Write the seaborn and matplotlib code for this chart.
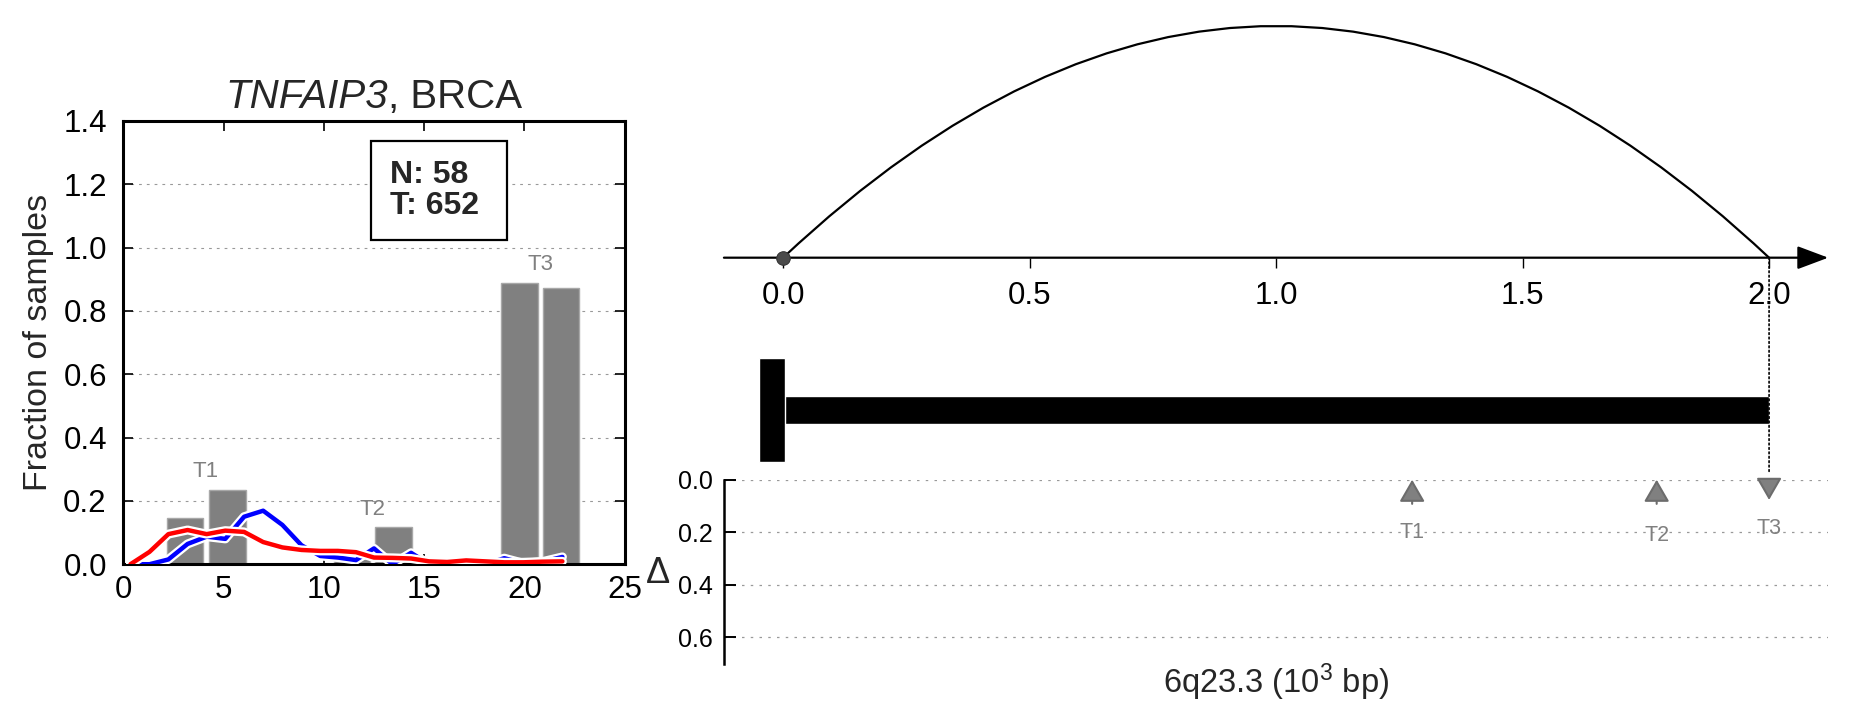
import matplotlib
matplotlib.use('Agg')
import matplotlib.pyplot as plt
import matplotlib.patheffects as pe
from matplotlib.path import Path
from matplotlib.patches import PathPatch, ConnectionPatch
from matplotlib.offsetbox import TextArea, HPacker, AnchoredOffsetbox
import seaborn as sns

#%% data
gene = 'TNFAIP3'
cancer = 'BRCA'
n_normal = 58
n_tumor = 652

# grey bars (transcript usage), grouped by transcript
bar_pos = [3.07, 5.17, 11.40, 13.49, 19.74, 21.83]
bar_frac = [0.145, 0.234, 0.015, 0.116, 0.888, 0.873]
bar_tx = ['T1', 'T1', 'T2', 'T2', 'T3', 'T3']

# blue / red curves
curve_x = [0.35, 1.30, 2.24, 3.20, 4.15, 5.08, 6.02, 6.97, 7.93, 8.88, 9.82, 10.70,
           11.60, 12.50, 13.42, 14.35, 15.25, 16.15, 17.10, 18.05, 19.00, 19.95, 20.90, 21.90]
normal_frac = [0.0, 0.0, 0.015, 0.064, 0.087, 0.080, 0.150, 0.169, 0.124, 0.060, 0.026, 0.021,
               0.013, 0.050, 0.0, 0.036, 0.0, 0.0, 0.0, 0.0, 0.019, 0.003, 0.008, 0.023]
tumor_frac = [0.0, 0.039, 0.095, 0.108, 0.095, 0.106, 0.102, 0.070, 0.053, 0.045, 0.042, 0.042,
              0.038, 0.021, 0.020, 0.018, 0.009, 0.007, 0.012, 0.009, 0.006, 0.006, 0.008, 0.009]

# right side: locus in 10^3 bp
arc_start, arc_end = 0.0, 2.0
gene_start, gene_end = 0.0, 2.0
tx_names = ['T1', 'T2', 'T3']
tx_pos = [1.276, 1.772, 2.0]
tx_strand = ['+', '+', '-']
region = '6q23.3'

#%% style
sns.set_style('white')
plt.rcParams['font.family'] = ['Liberation Sans', 'DejaVu Sans']
plt.rcParams['mathtext.fontset'] = 'custom'
plt.rcParams['mathtext.rm'] = 'Liberation Sans'
plt.rcParams['mathtext.it'] = 'Liberation Sans:italic'
plt.rcParams['mathtext.bf'] = 'Liberation Sans:bold'

fig = plt.figure(figsize=(18.51, 7.18), dpi=100)

#%% left panel
ax = fig.add_axes([0.0667, 0.2142, 0.2707, 0.6173])
ax.bar(bar_pos, bar_frac, width=1.84, color='#808080', edgecolor='#a8a8a8', lw=1, zorder=2)
for t in ['T1', 'T2', 'T3']:
    xs = [p for p, b in zip(bar_pos, bar_tx) if b == t]
    hs = [h for h, b in zip(bar_frac, bar_tx) if b == t]
    ax.text(sum(xs) / len(xs), max(hs) + 0.058, t, color='#808080', fontsize=16,
            ha='center', va='center')

halo = [pe.Stroke(linewidth=6.5, foreground='white'), pe.Normal()]
sns.lineplot(x=curve_x, y=normal_frac, ax=ax, color='#0000ff', lw=3.2,
             estimator=None, sort=False, path_effects=halo, zorder=3)
sns.lineplot(x=curve_x, y=tumor_frac, ax=ax, color='#ff0000', lw=3.2,
             estimator=None, sort=False, path_effects=halo, zorder=4)

ax.set_xlim(0, 25)
ax.set_ylim(0, 1.4)
ax.set_xticks([0, 5, 10, 15, 20, 25])
ax.set_yticks([0.0, 0.2, 0.4, 0.6, 0.8, 1.0, 1.2, 1.4])
ax.set_yticklabels(['%.1f' % v for v in ax.get_yticks()])
ax.tick_params(direction='in', length=7.5, width=1.2, labelsize=22.5, colors='black',
               top=True, right=True, bottom=True, left=True)
ax.tick_params(axis='x', pad=8)
ax.tick_params(axis='y', pad=12)
ax.yaxis.grid(True, ls=(0, (2.5, 4.5)), color='#999999', lw=0.8)
ax.xaxis.grid(False)
for s in ax.spines.values():
    s.set_color('black')
    s.set_linewidth(2.2)

# title: gene name in italics, cancer code upright
title = HPacker(children=[TextArea(gene, textprops=dict(fontsize=29, style='italic')),
                          TextArea(', ' + cancer, textprops=dict(fontsize=29))],
                align='baseline', pad=0, sep=0)
ax.add_artist(AnchoredOffsetbox(loc='lower center', child=title, pad=0, borderpad=0,
                                frameon=False, bbox_to_anchor=(0.5, 1.012),
                                bbox_transform=ax.transAxes))

ax.set_ylabel('Fraction of samples', fontsize=24.5, va='center')
ax.yaxis.set_label_coords(-0.17, 0.5)
ax.text(13.3, 1.18, 'N: %d\nT: %d ' % (n_normal, n_tumor), fontsize=23, fontweight='bold',
        ha='left', va='center', linespacing=1.05, zorder=6,
        bbox=dict(boxstyle='square,pad=0.6', fc='white', ec='black', lw=1.6))

#%% right top: number line with arc
xl = (-0.12, 2.12)
ax_top = fig.add_axes([0.3911, 0.6411, 0.5966, 0.3311])
ax_top.set_xlim(*xl)
ax_top.set_ylim(0, 1.026)
for s in ax_top.spines.values():
    s.set_visible(False)
arc = Path([(arc_start, 0), ((arc_start + arc_end) / 2, 2.0), (arc_end, 0)],
           [Path.MOVETO, Path.CURVE3, Path.CURVE3])
ax_top.add_patch(PathPatch(arc, fc='none', ec='black', lw=1.6))
ax_top.annotate('', xy=(xl[1], 0), xytext=(xl[0], 0),
                arrowprops=dict(arrowstyle='-|>,head_length=0.96,head_width=0.36',
                                mutation_scale=20, color='black', lw=1.6,
                                shrinkA=0, shrinkB=0),
                annotation_clip=False)
sns.scatterplot(x=[arc_start], y=[0.0], ax=ax_top, s=95, color='#4a4a4a',
                edgecolor='#333333', zorder=5, clip_on=False, legend=False)
ax_top.set_xticks([0.0, 0.5, 1.0, 1.5, 2.0])
ax_top.set_xticklabels(['0.0', '0.5', '1.0', '1.5', '2.0'])
ax_top.set_yticks([])
ax_top.tick_params(axis='x', direction='out', length=7.5, width=1, pad=9,
                   labelsize=22.5, bottom=True, colors='black')

#%% right middle: gene model
ax_gene = fig.add_axes([0.3911, 0.3454, 0.5966, 0.1671])
ax_gene.set_xlim(*xl)
ax_gene.set_ylim(-1, 1)
ax_gene.barh(0, gene_end - gene_start, left=gene_start, height=0.47, color='black')
ax_gene.barh(0, 0.052, left=gene_start - 0.048, height=1.74, color='black')
ax_gene.axis('off')

#%% right bottom: delta track
ax_d = fig.add_axes([0.3911, 0.0758, 0.5966, 0.2561])
ax_d.set_xlim(*xl)
ax_d.set_ylim(0.7, 0.0)
ax_d.set_xticks([])
ax_d.set_yticks([0.0, 0.2, 0.4, 0.6])
ax_d.set_yticklabels(['0.0', '0.2', '0.4', '0.6'])
ax_d.tick_params(axis='y', direction='in', length=8.5, width=1.4, labelsize=18,
                 pad=8, left=True, colors='black')
ax_d.yaxis.grid(True, ls=(0, (2, 5)), color='#999999', lw=0.9)
for k in ['top', 'right', 'bottom']:
    ax_d.spines[k].set_visible(False)
ax_d.spines['left'].set_color('black')
ax_d.spines['left'].set_linewidth(1.8)

label_y = [0.2, 0.213, 0.185]
for name, x, strand, ly in zip(tx_names, tx_pos, tx_strand, label_y):
    if strand == '+':
        tip, tail = 0.0, 0.092
    else:
        tip, tail = 0.077, 0.0
    ax_d.annotate('', xy=(x, tip), xytext=(x, tail),
                  arrowprops=dict(arrowstyle='-|>,head_length=1.37,head_width=0.79',
                                  mutation_scale=10, fc='#808080', ec='#6c6c6c',
                                  lw=1.5, shrinkA=0, shrinkB=0),
                  annotation_clip=False)
    ax_d.text(x, ly, name, color='#808080', fontsize=15.5, ha='center', va='center')

ax_d.set_ylabel('\u0394', fontsize=26, rotation=0, va='center', ha='center')
ax_d.yaxis.set_label_coords(-0.06, 0.49)
ax_d.text(0.5, -0.1, region + r' (10$^3$ bp)', transform=ax_d.transAxes,
          fontsize=23.5, ha='center', va='center')

# dotted guide from the arc end down to the last transcript
con = ConnectionPatch(xyA=(arc_end, 0.0), coordsA=ax_top.transData,
                      xyB=(arc_end, -0.03), coordsB=ax_d.transData,
                      ls=':', color='black', lw=1.2)
fig.add_artist(con)

fig.savefig('out.png', dpi=100)
